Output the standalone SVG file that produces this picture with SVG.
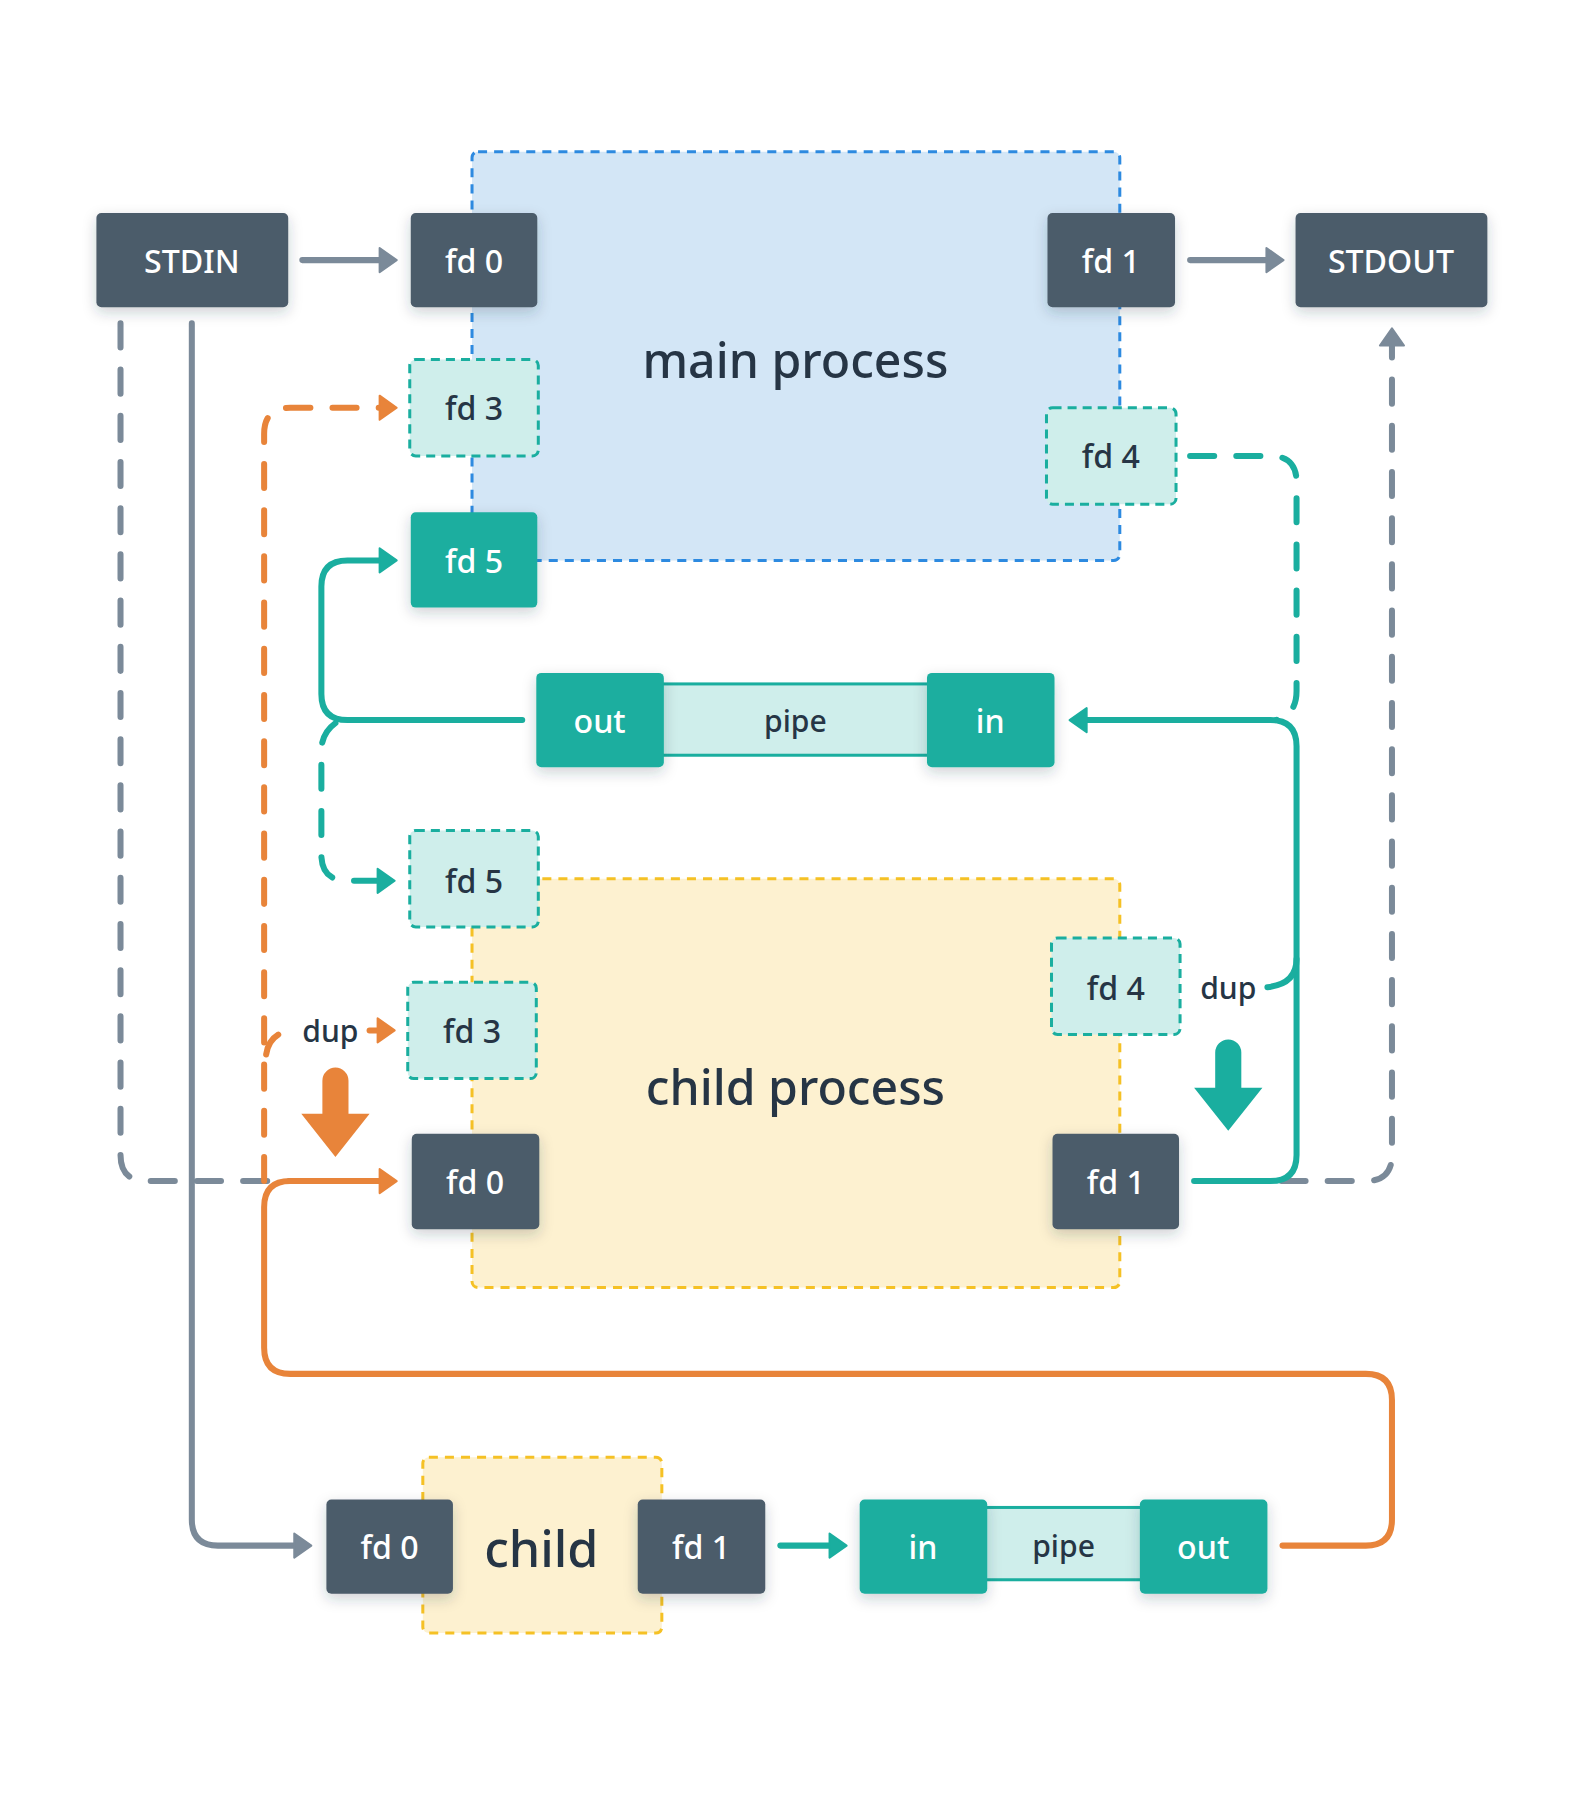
<svg xmlns="http://www.w3.org/2000/svg" width="1584" height="1800" viewBox="0 0 1584 1800">
<defs>
<style>
text{font-family:"Noto Sans","DejaVu Sans",sans-serif;font-weight:500;text-anchor:middle;dominant-baseline:central}
.dark{fill:#4b5b6a}
.teal{fill:#1aae9f}
.lt{fill:#cfeeeb;stroke:#1aae9f;stroke-width:3;stroke-dasharray:9 6}
.w{fill:#ffffff;font-size:32px}
.k{fill:#263545;font-size:32px}
.big{fill:#263545;font-size:48px}
.ln{fill:none;stroke-width:6;stroke-linecap:round;stroke-linejoin:round}
.g{stroke:#7b8a99}
.o{stroke:#e8843a}
.t{stroke:#1aae9f}
.d{stroke-dasharray:24 22}
</style>
<filter id="sh" x="-30%" y="-30%" width="160%" height="170%">
<feDropShadow dx="0" dy="5" stdDeviation="7" flood-color="#263545" flood-opacity="0.22"/>
</filter>
<marker id="ag" markerUnits="userSpaceOnUse" markerWidth="24" markerHeight="28" viewBox="0 0 24 28" refX="6" refY="14" orient="auto">
<path d="M2,2 L19,14 L2,26 Z" fill="#7b8a99" stroke="#7b8a99" stroke-width="2" stroke-linejoin="round"/>
</marker>
<marker id="ao" markerUnits="userSpaceOnUse" markerWidth="24" markerHeight="28" viewBox="0 0 24 28" refX="6" refY="14" orient="auto">
<path d="M2,2 L19,14 L2,26 Z" fill="#e8843a" stroke="#e8843a" stroke-width="2" stroke-linejoin="round"/>
</marker>
<marker id="at" markerUnits="userSpaceOnUse" markerWidth="24" markerHeight="28" viewBox="0 0 24 28" refX="6" refY="14" orient="auto">
<path d="M2,2 L19,14 L2,26 Z" fill="#1aae9f" stroke="#1aae9f" stroke-width="2" stroke-linejoin="round"/>
</marker>
</defs>
<rect width="1584" height="1800" fill="#ffffff"/>
<g transform="scale(1.0043)">
<g id="main-process">
<rect x="470" y="151" width="645" height="407" rx="6" fill="#d3e6f6" stroke="#2d8ae0" stroke-width="3" stroke-dasharray="9 7"/>
<text class="big" x="792" y="357">main process</text>
</g>
<g id="child-process">
<rect x="470" y="875" width="645" height="407" rx="6" fill="#fdf1d0" stroke="#f5c125" stroke-width="3" stroke-dasharray="9 7"/>
<text class="big" x="792" y="1081">child process</text>
</g>
<g id="child">
<rect x="421" y="1451" width="238" height="175" rx="6" fill="#fdf1d0" stroke="#f5c125" stroke-width="3" stroke-dasharray="9 7"/>
<text class="big" x="539" y="1541" style="font-size:50px">child</text>
</g>

<g id="connectors">
<path class="ln g" d="M301,259 H382" marker-end="url(#ag)"/>
<path class="ln g" d="M1185,259 H1265" marker-end="url(#ag)"/>
<path class="ln g d" d="M120,322 V1150 Q120,1176 146,1176 H292"/>
<path class="ln g" d="M191,322 V1513 Q191,1539 217,1539 H297" marker-end="url(#ag)"/>
<path class="ln g d" d="M1276,1176 H1360 Q1386,1176 1386,1150 V340" marker-end="url(#ag)"/>
<path class="ln o d" d="M263,1176 V432 Q263,406 289,406 H382" marker-end="url(#ao)"/>
<path class="ln o d" d="M265,1050 Q268,1029 290,1026"/>
<path class="ln o" d="M368,1026 H380" marker-end="url(#ao)"/>
<path class="ln o" d="M1277,1539 H1360 Q1386,1539 1386,1513 V1394 Q1386,1368 1360,1368 H289 Q263,1368 263,1342 V1202 Q263,1176 289,1176 H382" marker-end="url(#ao)"/>
<path class="ln t" d="M520,717 H346 Q320,717 320,691 V584 Q320,558 346,558 H382" marker-end="url(#at)"/>
<path class="ln t d" d="M334,720 Q320,730 320,748 V851 Q320,877 346,877 H380" marker-end="url(#at)"/>
<path class="ln t d" d="M1185,454 H1265 Q1291,454 1291,480 V688 Q1291,712 1270,717"/>
<path class="ln t" d="M1189,1176 H1265 Q1291,1176 1291,1150 V743 Q1291,717 1265,717 H1078" marker-end="url(#at)"/>
<path class="ln t" d="M1291,955 Q1291,980 1262,983"/>
<path class="ln t" d="M777,1539 H830" marker-end="url(#at)"/>
<path d="M321,1076 A13,13 0 0 1 347,1076 V1109 H368 L334,1152 L300,1109 H321 Z" fill="#e8843a"/>
<path d="M1210,1048 A13,13 0 0 1 1236,1048 V1083 H1257 L1223,1126 L1189,1083 H1210 Z" fill="#1aae9f"/>
<text class="k" x="329" y="1026" style="font-size:30px">dup</text>
<text class="k" x="1223" y="983" style="font-size:30px">dup</text>
</g>

<g id="stdin"><rect class="dark" x="96" y="212" width="191" height="94" rx="5" filter="url(#sh)"/><text class="w" x="191" y="259">STDIN</text></g>
<g id="stdout"><rect class="dark" x="1290" y="212" width="191" height="94" rx="5" filter="url(#sh)"/><text class="w" x="1385" y="259">STDOUT</text></g>
<g id="main-fd0"><rect class="dark" x="409" y="212" width="126" height="94" rx="5" filter="url(#sh)"/><text class="w" x="472" y="259">fd 0</text></g>
<g id="main-fd1"><rect class="dark" x="1043" y="212" width="127" height="94" rx="5" filter="url(#sh)"/><text class="w" x="1106" y="259">fd 1</text></g>
<g id="main-fd3"><rect class="lt" x="408" y="358" width="128" height="96" rx="6"/><text class="k" x="472" y="406">fd 3</text></g>
<g id="main-fd4"><rect class="lt" x="1042" y="406" width="129" height="96" rx="6"/><text class="k" x="1106" y="454">fd 4</text></g>
<g id="main-fd5"><rect class="teal" x="409" y="510" width="126" height="95" rx="5" filter="url(#sh)"/><text class="w" x="472" y="558">fd 5</text></g>

<g id="pipe-top">
<rect x="655" y="681" width="274" height="71" fill="#cfeeeb" stroke="#1aae9f" stroke-width="3"/>
<text class="k" x="792" y="717" style="font-size:30px">pipe</text>
</g>
<g id="pipe-top-out"><rect class="teal" x="534" y="670" width="127" height="94" rx="5" filter="url(#sh)"/><text class="w" x="597" y="717">out</text></g>
<g id="pipe-top-in"><rect class="teal" x="923" y="670" width="127" height="94" rx="5" filter="url(#sh)"/><text class="w" x="986" y="717">in</text></g>

<g id="child-fd5"><rect class="lt" x="408" y="827" width="128" height="96" rx="6"/><text class="k" x="472" y="877">fd 5</text></g>
<g id="child-fd3"><rect class="lt" x="406" y="978" width="128" height="96" rx="6"/><text class="k" x="470" y="1026">fd 3</text></g>
<g id="child-fd4"><rect class="lt" x="1047" y="934" width="128" height="96" rx="6"/><text class="k" x="1111" y="983">fd 4</text></g>
<g id="child-fd0"><rect class="dark" x="410" y="1129" width="127" height="95" rx="5" filter="url(#sh)"/><text class="w" x="473" y="1176">fd 0</text></g>
<g id="child-fd1"><rect class="dark" x="1048" y="1129" width="126" height="95" rx="5" filter="url(#sh)"/><text class="w" x="1111" y="1176">fd 1</text></g>

<g id="c-fd0"><rect class="dark" x="325" y="1493" width="126" height="94" rx="5" filter="url(#sh)"/><text class="w" x="388" y="1540">fd 0</text></g>
<g id="c-fd1"><rect class="dark" x="635" y="1493" width="127" height="94" rx="5" filter="url(#sh)"/><text class="w" x="698" y="1540">fd 1</text></g>

<g id="pipe-bottom">
<rect x="978" y="1501" width="162" height="72" fill="#cfeeeb" stroke="#1aae9f" stroke-width="3"/>
<text class="k" x="1059" y="1539" style="font-size:30px">pipe</text>
</g>
<g id="pipe-bottom-in"><rect class="teal" x="856" y="1493" width="127" height="94" rx="5" filter="url(#sh)"/><text class="w" x="919" y="1540">in</text></g>
<g id="pipe-bottom-out"><rect class="teal" x="1135" y="1493" width="127" height="94" rx="5" filter="url(#sh)"/><text class="w" x="1198" y="1540">out</text></g>
</g>
</svg>
